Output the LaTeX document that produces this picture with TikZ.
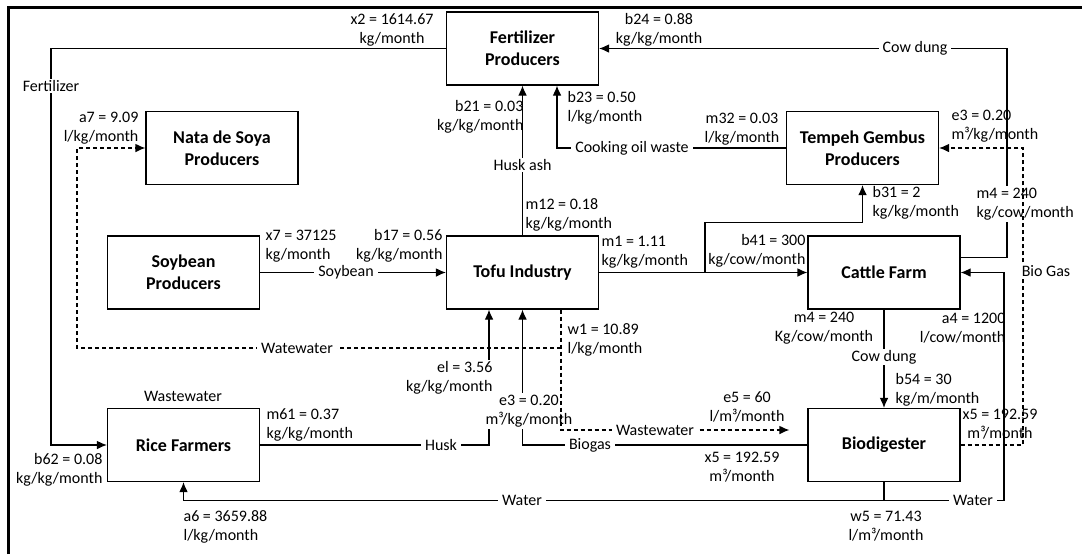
\documentclass[tikz,border=0pt]{standalone}
\usepackage{fontspec}
\setmainfont{Carlito}
\usetikzlibrary{arrows.meta,calc}

\newcommand{\lblfont}{\fontsize{12}{14.5}\selectfont}
\newcommand{\boxfont}{\fontsize{13.5}{16.5}\selectfont\bfseries}

\begin{document}
\begin{tikzpicture}[x=0.75pt,y=-0.75pt,
    box/.style={draw, line width=0.9pt, minimum width=114pt, minimum height=54.75pt,
      align=center, font=\boxfont},
    flow/.style={line width=0.9pt, -{Latex[length=7.5pt,width=6.5pt]}},
    dflow/.style={flow, dash pattern=on 3pt off 2.25pt},
    tag/.style={fill=white, inner xsep=3pt, inner ysep=1pt, font=\lblfont},
    qtyl/.style={anchor=west, align=left, inner sep=1pt, font=\lblfont},
    qtyr/.style={anchor=east, align=right, inner sep=1pt, font=\lblfont},
    qtyc/.style={align=center, inner sep=1pt, font=\lblfont}]
    \useasboundingbox (0,0) rectangle (1082,554);
    \draw[line width=2.25pt] (8,554) -- (8,7) -- (1082,7);

    % actors
    \node [box](fert) at (522.5,48.5) {Fertilizer\\Producers};
    \node [box](nata) at (222,148) {Nata de Soya\\Producers};
    \node [box](tempeh) at (862.5,148) {Tempeh Gembus\\Producers};
    \node [box](soy) at (183.5,272.5) {Soybean\\Producers};
    \node [box](tofu) at (522.5,272.5) {Tofu Industry};
    \node [box](cattle) at (884,272.5) {Cattle Farm};
    \node [box](rice) at (183.5,445) {Rice Farmers};
    \node [box](biodig) at (884,445) {Biodigester};

    % bends
    \coordinate (fkink) at (51,445);
    \coordinate (dungkink) at (1007,48.5);
    \coordinate (oilin) at ($(fert.south)+(34.5,0)$);
    \coordinate (split) at (705,272.5);
    \coordinate (wwtop) at ($(tofu.south)+(38.5,0)$);
    \coordinate (wwsplit) at (561,348);
    \coordinate (wwend) at ($(biodig.west)+(-18,-15)$);
    \coordinate (natakink) at (77,148);
    \coordinate (gaskink) at (1023,148);
    \coordinate (wj) at ($(biodig.south)+(0,18)$);
    \coordinate (waterkink) at (1004,272.5);
    \coordinate (huskin) at ($(tofu.south)+(-33.5,0)$);

    % solid flows
    \draw[flow] (fert.west) -| (fkink) -- (rice.west);
    \draw[flow] (cattle.11) -| (dungkink) -- (fert.east);
    \draw[flow] (tofu.north) -- (fert.south);
    \draw[flow] (tempeh.west) -| (oilin);
    \draw[flow] (soy.east) -- (tofu.west);
    \draw[flow] (tofu.east) -- (cattle.west);
    \draw[flow] (split) |- ($(tempeh.south)+(0,37)$) -- (tempeh.south);
    \draw[flow] (cattle.south) -- (biodig.north);
    \draw[flow] (biodig.south) -- (wj) -| (waterkink) -- (cattle.east);
    \draw[flow] (wj) -| (rice.south);
    \draw[flow] (rice.east) -| (huskin);
    \draw[flow] (biodig.west) -| (tofu.south);

    % quantities
    \node [qtyc](x2) at (392,30) {x2 = 1614.67\\kg/month};
    \node [qtyr](b62) at (104,470) {b62 = 0.08\\kg/kg/month};
    \node [qtyc](b24) at (659,30) {b24 = 0.88\\kg/kg/month};
    \node [qtyl, fill=white](m4a) at (975,204) {m4 = 240\\kg/cow/month};
    \node [qtyr](b21) at (525,117) {b21 = 0.03\\kg/kg/month};
    \node [qtyl](m12) at (524,215) {m12 = 0.18\\kg/kg/month};
    \node [qtyl](b23) at (566,108) {b23 = 0.50\\l/kg/month};
    \node [qtyc](m32) at (742,129) {m32 = 0.03\\l/kg/month};
    \node [qtyl](x7) at (264,246) {x7 = 37125\\kg/month};
    \node [qtyr](b17) at (444,246) {b17 = 0.56\\kg/kg/month};
    \node [qtyl](m1) at (600,252) {m1 = 1.11\\kg/kg/month};
    \node [qtyr](b41) at (807,251) {b41 = 300\\kg/cow/month};
    \node [qtyl](b31) at (871,203) {b31 = 2\\kg/kg/month};
    \node [qtyr](a7) at (140,128) {a7 = 9.09\\l/kg/month};
    \node [qtyl](w1) at (566,340) {w1 = 10.89\\l/kg/month};
    \node [qtyc](e5) at (747,407) {e5 = 60\\l/m³/month};
    \node [qtyl](e3a) at (950,126) {e3 = 0.20\\m³/kg/month};
    \node [qtyc](x5a) at (1000,424) {x5 = 192.59\\m³/month};
    \node [qtyc](m4b) at (824,328) {m4 = 240\\Kg/cow/month};
    \node [qtyl](b54) at (894,390) {b54 = 30\\kg/m/month};
    \node [qtyr](a4) at (1007,328) {a4 = 1200\\l/cow/month};
    \node [qtyc](w5) at (886,526) {w5 = 71.43\\l/m³/month};
    \node [qtyl](a6) at (182,527) {a6 = 3659.88\\l/kg/month};
    \node [qtyl](m61) at (265,425) {m61 = 0.37\\kg/kg/month};
    \node [qtyr, fill=white](el) at (494,378) {el = 3.56\\kg/kg/month};
    \node [qtyc, fill=white](e3b) at (529,411) {e3 = 0.20\\m³/kg/month};
    \node [qtyc](x5b) at (742,467) {x5 = 192.59\\m³/month};
    \node [qtyc](ricews) at (183,396) {Wastewater};

    % dashed flows
    \draw[dflow] (wwtop) |- (wwend);
    \draw[dflow] (wwsplit) -| (natakink) -- (nata.west);
    \draw[dflow] (biodig.east) -| (gaskink) -- (tempeh.east);

    % flow names
    \node [tag](tfert) at (51,86) {Fertilizer};
    \node [tag](tdung) at (915,48.5) {Cow dung};
    \node [tag](thash) at (522.5,165) {Husk ash};
    \node [tag](toil) at (632,148) {Cooking oil waste};
    \node [tag](tsoy) at (346,272.5) {Soybean};
    \node [tag](twwa) at (297,348) {Watewater};
    \node [tag](twwb) at (655,430) {Wastewater};
    \node [tag](tgas) at (1046,271) {Bio Gas};
    \node [tag](tdungb) at (884,357) {Cow dung};
    \node [tag](twatera) at (973,500) {Water};
    \node [tag](twaterb) at (522,500) {Water};
    \node [tag](thusk) at (441,445) {Husk};
    \node [tag](tbiogas) at (590,445) {Biogas};
\end{tikzpicture}
\end{document}
